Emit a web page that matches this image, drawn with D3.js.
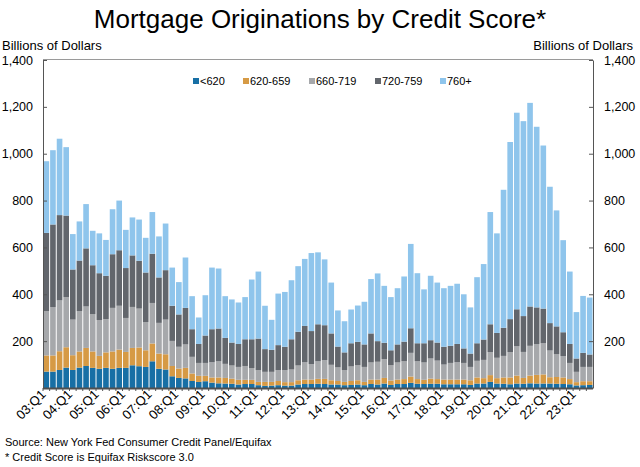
<!DOCTYPE html>
<html>
<head>
<meta charset="utf-8">
<script src="https://cdn.jsdelivr.net/npm/d3@7"></script>
<style>
  html, body { margin: 0; padding: 0; background: #fff; }
  svg { display: block; font-family: "Liberation Sans", Arial, sans-serif; }
</style>
</head>
<body>
<svg id="chart" width="640" height="467"></svg>
<script>
const quarters = [
  "03:Q1","03:Q2","03:Q3","03:Q4","04:Q1","04:Q2","04:Q3","04:Q4",
  "05:Q1","05:Q2","05:Q3","05:Q4","06:Q1","06:Q2","06:Q3","06:Q4",
  "07:Q1","07:Q2","07:Q3","07:Q4","08:Q1","08:Q2","08:Q3","08:Q4",
  "09:Q1","09:Q2","09:Q3","09:Q4","10:Q1","10:Q2","10:Q3","10:Q4",
  "11:Q1","11:Q2","11:Q3","11:Q4","12:Q1","12:Q2","12:Q3","12:Q4",
  "13:Q1","13:Q2","13:Q3","13:Q4","14:Q1","14:Q2","14:Q3","14:Q4",
  "15:Q1","15:Q2","15:Q3","15:Q4","16:Q1","16:Q2","16:Q3","16:Q4",
  "17:Q1","17:Q2","17:Q3","17:Q4","18:Q1","18:Q2","18:Q3","18:Q4",
  "19:Q1","19:Q2","19:Q3","19:Q4","20:Q1","20:Q2","20:Q3","20:Q4",
  "21:Q1","21:Q2","21:Q3","21:Q4","22:Q1","22:Q2","22:Q3","22:Q4",
  "23:Q1","23:Q2","23:Q3"
];
const tickLabels = ["03:Q1","04:Q1","05:Q1","06:Q1","07:Q1","08:Q1","09:Q1","10:Q1","11:Q1","12:Q1","13:Q1","14:Q1","15:Q1","16:Q1","17:Q1","18:Q1","19:Q1","20:Q1","21:Q1","22:Q1","23:Q1"];
const yTicks = [200, 400, 600, 800, 1000, 1200, 1400];
const seriesNames = ["<620", "620-659", "660-719", "720-759", "760+"];

const below620 = [70,70,77,87,77,87,94,86,82,86,82,86,86,97,93,90,114,82,79,50,43,41,30,26,29,23,20,19,18,15,17,17,12,9,10,12,10,10,15,17,17,18,17,15,15,12,13,15,12,17,15,19,13,17,17,22,18,17,18,18,16,16,16,16,13,19,19,26,19,18,16,19,18,20,19,19,19,18,17,16,11,12,13];
const s620_659 = [69,69,80,87,63,69,77,70,55,66,74,78,68,74,80,71,76,65,65,44,40,45,32,26,23,22,25,24,22,20,18,18,14,17,16,18,15,15,18,19,19,21,22,18,15,14,17,18,14,19,21,24,19,19,21,27,20,18,22,20,20,20,20,20,20,26,23,29,23,27,29,34,25,33,37,39,27,29,28,22,14,17,16];
const s660_719 = [189,206,217,214,152,172,177,159,153,142,186,187,145,175,166,120,173,131,148,107,93,100,71,55,55,65,69,60,56,55,59,50,50,43,43,46,51,54,63,74,66,75,80,66,58,50,62,64,64,73,76,80,65,73,76,101,76,74,86,79,64,71,74,71,57,71,78,98,87,92,108,125,111,127,131,133,114,97,91,69,44,61,61];
const s720_759 = [334,353,364,348,214,216,248,209,200,185,229,237,213,220,204,212,210,194,211,150,138,156,118,81,117,141,140,111,98,98,114,123,135,97,94,107,100,129,144,155,141,158,149,134,89,76,99,100,96,124,88,70,64,77,84,105,77,82,78,77,76,73,78,62,57,75,87,119,106,120,141,158,153,168,157,148,117,119,102,81,57,60,53];
const s760plus = [306,317,326,292,151,167,189,147,170,153,192,212,163,162,176,148,178,175,199,163,138,215,141,113,172,263,256,178,184,177,180,255,286,185,128,220,234,252,280,286,333,307,281,217,154,133,144,155,182,232,289,243,227,240,278,360,299,230,275,256,250,256,257,231,197,282,322,479,425,589,756,839,832,869,771,696,582,495,393,309,198,243,243];

const colors = ["#176fa5", "#d69a45", "#a6a8ab", "#62666c", "#8fc5ec"];

const rows = quarters.map((q, i) => ({
  q,
  "<620": below620[i],
  "620-659": s620_659[i],
  "660-719": s660_719[i],
  "720-759": s720_759[i],
  "760+": s760plus[i]
}));

const svg = d3.select("#chart");
const pL = 43, pR = 593, pT = 60, pB = 388;

const x = d3.scaleBand().domain(quarters).range([pL, pR]).paddingInner(0.15).paddingOuter(0.075);
const y = d3.scaleLinear().domain([0, 1400]).range([pB, pT]);
const color = d3.scaleOrdinal().domain(seriesNames).range(colors);

// Title
svg.append("text")
  .attr("x", 320).attr("y", 28)
  .attr("text-anchor", "middle")
  .attr("font-size", 26)
  .attr("fill", "#000")
  .text("Mortgage Originations by Credit Score*");

// Axis titles
svg.append("text").attr("x", 2).attr("y", 50).attr("font-size", 13).attr("fill", "#000").text("Billions of Dollars");
svg.append("text").attr("x", 633).attr("y", 50).attr("text-anchor", "end").attr("font-size", 13).attr("fill", "#000").text("Billions of Dollars");

// Top frame line
svg.append("line").attr("x1", pL).attr("x2", pR).attr("y1", pT - 0.5).attr("y2", pT - 0.5)
  .attr("stroke", "#9a9a9a").attr("stroke-width", 1);

// Bars
const stacked = d3.stack().keys(seriesNames)(rows);
svg.append("g").selectAll("g")
  .data(stacked)
  .join("g")
  .attr("fill", d => color(d.key))
  .selectAll("rect")
  .data(d => d)
  .join("rect")
  .attr("x", d => x(d.data.q))
  .attr("width", x.bandwidth())
  .attr("y", d => y(d[1]))
  .attr("height", d => y(d[0]) - y(d[1]));

// Left axis
const yl = svg.append("g").attr("transform", `translate(${pL},0)`)
  .call(d3.axisLeft(y).tickValues(yTicks).tickFormat(d3.format(",")).tickSizeInner(-4).tickSizeOuter(0).tickPadding(10));
yl.select(".domain").attr("stroke", "#555");
yl.selectAll(".tick line").attr("stroke", "#555");
yl.selectAll("text").attr("font-size", 12.5).attr("fill", "#000").attr("font-family", "Liberation Sans, Arial, sans-serif");

// Right axis
const yr = svg.append("g").attr("transform", `translate(${pR},0)`)
  .call(d3.axisRight(y).tickValues(yTicks).tickFormat(d3.format(",")).tickSizeInner(-4).tickSizeOuter(0).tickPadding(11));
yr.select(".domain").attr("stroke", "#555");
yr.selectAll(".tick line").attr("stroke", "#555");
yr.selectAll("text").attr("font-size", 12.5).attr("fill", "#000").attr("font-family", "Liberation Sans, Arial, sans-serif");

// Bottom axis (rotated labels)
const xb = svg.append("g").attr("transform", `translate(0,${pB})`)
  .call(d3.axisBottom(x).tickValues(tickLabels).tickSize(0).tickPadding(0));
xb.select(".domain").remove();
xb.selectAll("text")
  .attr("y", 0)
  .attr("font-size", 13)
  .attr("fill", "#000")
  .attr("font-family", "Liberation Sans, Arial, sans-serif")
  .attr("text-anchor", "end")
  .attr("dy", "0.35em")
  .attr("transform", "translate(-3,4) rotate(-45)");

const step = x.step();
svg.append("g").selectAll("line")
  .data(quarters)
  .join("line")
  .attr("x1", d => x(d) - step * x.paddingInner() / 2)
  .attr("x2", d => x(d) - step * x.paddingInner() / 2)
  .attr("y1", pB).attr("y2", pB + 3)
  .attr("stroke", "#555").attr("stroke-width", 1);

svg.append("line").attr("x1", pL).attr("x2", pR).attr("y1", pB + 0.5).attr("y2", pB + 0.5)
  .attr("stroke", "#505050").attr("stroke-width", 2);

// Legend
const legendX = [193, 243, 309, 375, 440];
const lg = svg.append("g");
seriesNames.forEach((name, i) => {
  lg.append("rect").attr("x", legendX[i]).attr("y", 78).attr("width", 6).attr("height", 6).attr("fill", colors[i]);
  lg.append("text").attr("x", legendX[i] + 7).attr("y", 85).attr("font-size", 11).attr("fill", "#000").text(name);
});

// Source notes
svg.append("text").attr("x", 5).attr("y", 446).attr("font-size", 11).attr("fill", "#000")
  .text("Source: New York Fed Consumer Credit Panel/Equifax");
svg.append("text").attr("x", 5).attr("y", 461).attr("font-size", 11).attr("fill", "#000")
  .text("* Credit Score is Equifax Riskscore 3.0");
</script>
</body>
</html>
